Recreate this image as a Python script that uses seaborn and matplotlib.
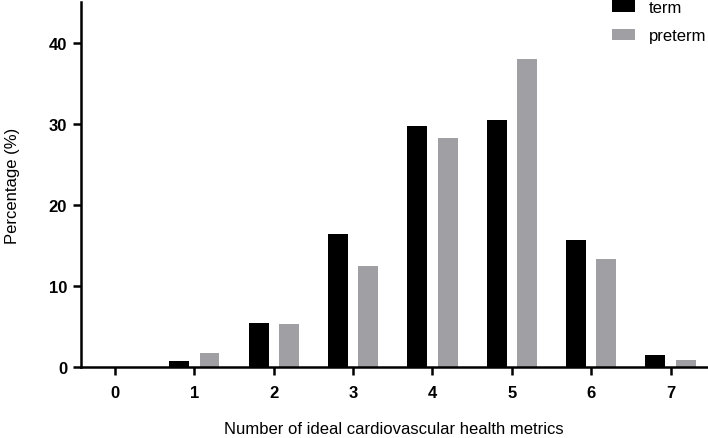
import matplotlib
matplotlib.use("Agg")
import matplotlib.pyplot as plt
import seaborn as sns
import pandas as pd

# values
metrics = ["0", "1", "2", "3", "4", "5", "6", "7"]
term = [0.0, 0.8, 5.4, 16.4, 29.7, 30.5, 15.7, 1.5]
preterm = [0.0, 1.75, 5.3, 12.4, 28.2, 38.0, 13.3, 0.86]
groups = ["term", "preterm"]
colors = ["#000000", "#a0a0a4"]

df = pd.DataFrame({
    "metric": metrics * 2,
    "value": term + preterm,
    "group": ["term"] * len(metrics) + ["preterm"] * len(metrics),
})

sns.set_style("ticks")
plt.rcParams["font.family"] = ["Liberation Sans", "DejaVu Sans"]
plt.rcParams["text.color"] = "black"
plt.rcParams["axes.labelcolor"] = "black"
plt.rcParams["xtick.color"] = "black"
plt.rcParams["ytick.color"] = "black"

fig = plt.figure(figsize=(7.08, 4.39), dpi=100)
ax = fig.add_axes([81 / 708, 71 / 439, 626 / 708, 365 / 439])

sns.barplot(data=df, x="metric", y="value", hue="group", order=metrics,
            hue_order=groups, palette=colors, width=0.76, gap=0.34,
            saturation=1, linewidth=0, ax=ax)

ax.set_xlim(-0.43, 7.46)
ax.set_ylim(0, 45)
ax.set_yticks([0, 10, 20, 30, 40])
ax.set_xlabel("Number of ideal cardiovascular health metrics", fontsize=12, labelpad=15)
ax.set_ylabel("Percentage (%)", fontsize=12, labelpad=21)

for lab in ax.get_xticklabels() + ax.get_yticklabels():
    lab.set_fontweight("bold")
    lab.set_fontsize(12)
ax.tick_params(axis="x", length=6, width=1.8, pad=7)
ax.tick_params(axis="y", length=6, width=1.8, pad=4)

sns.despine(ax=ax)
for s in ["left", "bottom"]:
    ax.spines[s].set_linewidth(1.8)
    ax.spines[s].set_color("black")

leg = ax.legend(loc="upper left", bbox_to_anchor=(611 / 708, 1.0),
                bbox_transform=fig.transFigure, frameon=False, fontsize=12,
                handlelength=1.4, handleheight=0.7, handletextpad=0.8,
                labelspacing=0.8, borderpad=0.05, borderaxespad=0)

fig.savefig("out.png", dpi=100)
